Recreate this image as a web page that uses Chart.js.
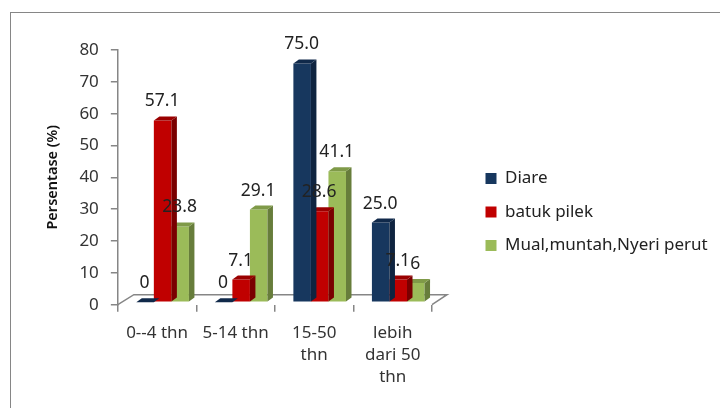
<!DOCTYPE html>
<html><head><meta charset="utf-8">
<style>html,body{margin:0;padding:0;background:#fff}#w{position:relative;width:720px;height:408px;overflow:hidden}
#f{position:absolute;left:10px;top:12px;width:800px;height:500px;border:1.5px solid #868686;box-sizing:border-box}
canvas{position:absolute;left:0;top:0}</style>
<script src="https://cdn.jsdelivr.net/npm/chart.js@4"></script></head>
<body><div id="w"><div id="f"></div><canvas id="c" width="720" height="408"></canvas></div>
<script>
const categories=['0--4 thn','5-14 thn',['15-50','thn'],['lebih','dari 50','thn']];
const diare=[0,0,75.0,25.0];
const batukPilek=[57.1,7.1,28.6,7.1];
const mual=[23.8,29.1,41.1,6];
const diareLabels=['0','0','75.0','25.0'];
const batukLabels=['57.1','7.1','28.6','7.1'];
const mualLabels=['23.8','29.1','41.1','6'];
const yTicks=[0,10,20,30,40,50,60,70,80];
const FONT='"Noto Sans"';
const OX=5.5,OY=-2.5,DX=5.5,DY=-4;
const shades=[['#10294a','#0f2440'],['#9a0000','#7a0000'],['#7f9a48','#677d3b']];
const texts=[diareLabels,batukLabels,mualLabels];
const plugin={id:'p3d',
 beforeLayout(ch){const leg=ch.legend;if(!leg._wide){leg._wide=true;const f=leg.fit;leg.fit=function(){f.call(this);this.width=232;};}},
 afterLayout(ch){const leg=ch.legend;leg.left-=15;leg.top-=12;leg.bottom-=12;},
 beforeDatasetsDraw(ch){const {ctx,chartArea:a}=ch;
  ctx.save();ctx.strokeStyle='#868686';ctx.lineWidth=1.5;ctx.beginPath();
  ctx.moveTo(a.left,a.bottom);ctx.lineTo(a.left+16,a.bottom-10);ctx.lineTo(a.right+15,a.bottom-10);ctx.lineTo(a.right,a.bottom);ctx.stroke();ctx.restore();
  ctx.save();ctx.translate(OX,OY);},
 afterDatasetsDraw(ch){const ctx=ch.ctx;ctx.restore();
  ctx.save();ctx.font='17.5px '+FONT;ctx.fillStyle='#222';ctx.textAlign='center';ctx.textBaseline='middle';
  ch.data.datasets.forEach((d,i)=>{ch.getDatasetMeta(i).data.forEach((b,j)=>{
    ctx.fillText(texts[i][j],b.x+OX-0.5,b.y+OY-19);});});
  ctx.restore();},
 afterDatasetDraw(ch,args){const ctx=ch.ctx,i=args.index;
  args.meta.data.forEach(b=>{const l=b.x-b.width/2,r=b.x+b.width/2,t=b.y,bt=b.base;
   ctx.fillStyle=shades[i][1];ctx.beginPath();ctx.moveTo(r,t);ctx.lineTo(r+DX,t+DY);ctx.lineTo(r+DX,bt+DY);ctx.lineTo(r,bt);ctx.closePath();ctx.fill();
   ctx.fillStyle=shades[i][0];ctx.beginPath();ctx.moveTo(l,t);ctx.lineTo(l+DX,t+DY);ctx.lineTo(r+DX,t+DY);ctx.lineTo(r,t);ctx.closePath();ctx.fill();});}
};
new Chart(document.getElementById('c'),{type:'bar',plugins:[plugin],
 data:{labels:categories,datasets:[
  {label:'Diare',data:diare,backgroundColor:'#17375E'},
  {label:'batuk pilek',data:batukPilek,backgroundColor:'#C00000'},
  {label:'Mual,muntah,Nyeri perut',data:mual,backgroundColor:'#9BBB59'}]},
 options:{responsive:false,animation:false,devicePixelRatio:1,
  layout:{padding:{left:44,top:50,right:4,bottom:10}},
  datasets:{bar:{barPercentage:1,categoryPercentage:0.67}},
  plugins:{tooltip:{enabled:false},
   legend:{position:'right',labels:{boxWidth:11,boxHeight:11,padding:16.5,color:'#222',font:{family:FONT,size:17}}}},
  scales:{
   x:{grid:{drawOnChartArea:false,tickLength:7,color:'#868686',lineWidth:1.5},border:{color:'#868686',display:false},
      ticks:{color:'#333',font:{family:FONT,size:17,lineHeight:1.3},maxRotation:0,minRotation:0,autoSkip:false,padding:10}},
   y:{min:0,max:80,afterBuildTicks(s){s.ticks=yTicks.map(v=>({value:v}));},
      grid:{drawOnChartArea:false,tickLength:7,color:'#868686',lineWidth:1.5},border:{color:'#868686',width:1.5},
      ticks:{color:'#333',font:{family:FONT,size:17},padding:12},
      title:{display:true,text:'Persentase (%)',color:'#111',font:{family:FONT,size:14.5,weight:'600'},padding:{top:0,bottom:6}}},
   gap:{position:'right',display:true,grid:{display:false},border:{display:false},ticks:{display:false},afterFit(s){s.width=52;}}
  }}});
</script></body></html>
